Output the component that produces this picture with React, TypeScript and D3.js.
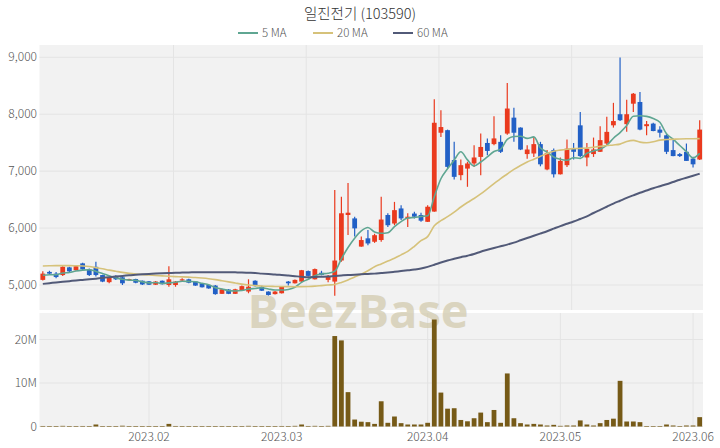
import React from "react";
import * as d3 from "d3";

const dates = [
  "2023-01-06","2023-01-09","2023-01-10","2023-01-11","2023-01-12","2023-01-13","2023-01-16","2023-01-17","2023-01-18","2023-01-19",
  "2023-01-20","2023-01-25","2023-01-26","2023-01-27","2023-01-30","2023-01-31","2023-02-01","2023-02-02","2023-02-03","2023-02-06",
  "2023-02-07","2023-02-08","2023-02-09","2023-02-10","2023-02-13","2023-02-14","2023-02-15","2023-02-16","2023-02-17","2023-02-20",
  "2023-02-21","2023-02-22","2023-02-23","2023-02-24","2023-02-27","2023-02-28","2023-03-02","2023-03-03","2023-03-06","2023-03-07",
  "2023-03-08","2023-03-09","2023-03-10","2023-03-13","2023-03-14","2023-03-15","2023-03-16","2023-03-17","2023-03-20","2023-03-21",
  "2023-03-22","2023-03-23","2023-03-24","2023-03-27","2023-03-28","2023-03-29","2023-03-30","2023-03-31","2023-04-03","2023-04-04",
  "2023-04-05","2023-04-06","2023-04-07","2023-04-10","2023-04-11","2023-04-12","2023-04-13","2023-04-14","2023-04-17","2023-04-18",
  "2023-04-19","2023-04-20","2023-04-21","2023-04-24","2023-04-25","2023-04-26","2023-04-27","2023-04-28","2023-05-02","2023-05-03",
  "2023-05-04","2023-05-08","2023-05-09","2023-05-10","2023-05-11","2023-05-12","2023-05-15","2023-05-16","2023-05-17","2023-05-18",
  "2023-05-19","2023-05-22","2023-05-23","2023-05-24","2023-05-25","2023-05-26","2023-05-30","2023-05-31","2023-06-01","2023-06-02",
];

const openP = [
  5090,5230,5200,5175,5310,5260,5380,5275,5320,5175,
  5050,5160,5135,5090,5105,5075,5065,5005,5075,5000,
  5000,5080,5100,5060,5030,5000,4990,4845,4920,4845,
  4900,4885,5075,4970,4885,4840,4855,5060,5030,5060,
  5245,5100,5215,5090,5060,5430,6230,6170,5675,5820,
  5760,5790,6230,6080,6345,6170,6255,6230,6110,6290,
  7675,7720,7195,6930,7045,7135,7250,7495,7475,7515,
  7660,7940,7765,7300,7310,7475,7030,7370,6945,7105,
  7395,7805,7240,7300,7340,7485,7805,8000,7825,8185,
  8215,7790,7835,7730,7630,7370,7300,7340,7220,7205,
];
const highP = [
  5240,5250,5230,5330,5320,5340,5390,5290,5410,5180,
  5140,5170,5140,5110,5110,5080,5070,5070,5080,5330,
  5070,5120,5110,5070,5035,5005,5000,4935,4930,4935,
  4990,5100,5085,4985,4890,4895,4980,5070,5095,5265,
  5255,5290,5250,5175,6670,6550,6790,6200,5850,5965,
  5900,6550,6260,6460,6400,6260,6285,6270,6400,8265,
  8070,7730,7515,7205,7165,7455,7660,7575,7965,7630,
  8550,8115,7770,7455,7600,7515,7370,7400,7240,7555,
  7495,8040,7495,7590,7790,7955,8200,8995,8255,8375,
  8390,7880,7850,7790,7650,7555,7320,7485,7255,7895,
];
const lowP = [
  5080,5190,5120,5160,5230,5250,5270,5160,5150,5050,
  5030,5090,5000,5080,5030,5000,5000,5000,5010,4970,
  4970,5070,5030,4985,4955,4935,4830,4840,4840,4840,
  4895,4855,4975,4895,4815,4835,4850,4990,5025,5055,
  5150,5095,5170,5050,4810,5410,5880,5850,5670,5700,
  5740,5760,6020,6050,6140,6020,6170,6110,6105,6285,
  7600,7045,6855,6840,6725,7075,6930,7280,7455,7320,
  7640,7515,7370,7220,7250,7085,7015,6890,6940,7075,
  7205,7250,7085,7250,7335,7455,7765,7880,7690,8040,
  7720,7630,7700,7590,7300,7260,7250,7180,7065,7195,
];
const closeP = [
  5200,5200,5140,5320,5240,5330,5275,5175,5175,5060,
  5135,5100,5030,5105,5040,5010,5005,5060,5015,5100,
  5060,5100,5040,4990,4960,4940,4840,4925,4845,4925,
  4980,4970,4980,4900,4825,4885,4970,5030,5090,5260,
  5160,5280,5175,5160,5430,6260,6270,5995,5790,5730,
  5875,6150,6050,6315,6170,6200,6200,6130,6375,7850,
  7775,7075,6900,7105,7135,7240,7425,7355,7575,7340,
  8100,7675,7380,7380,7475,7120,7320,6945,7180,7395,
  7340,7265,7395,7380,7545,7690,7880,7895,8000,8360,
  7730,7825,7705,7675,7340,7265,7265,7180,7120,7730,
];
const volumeM = [
  0.12,0.1,0.08,0.15,0.08,0.1,0.12,0.1,0.46,0.1,
  0.08,0.1,0.18,0.06,0.08,0.06,0.05,0.07,0.1,0.6,
  0.12,0.08,0.06,0.05,0.06,0.05,0.08,0.06,0.05,0.04,
  0.05,0.15,0.06,0.05,0.06,0.04,0.12,0.08,0.15,0.46,
  0.12,0.15,0.1,0.15,20.8,19.8,7.9,1.6,1.1,1.0,
  0.6,5.8,0.85,2.3,0.77,0.46,0.46,0.46,0.85,24.6,
  7.8,4.1,4.2,1.5,1.2,1.9,3.2,1.0,3.8,0.85,
  12.2,1.9,0.77,0.46,0.6,0.46,0.23,0.38,0.15,0.23,
  0.23,1.4,0.46,0.23,0.77,1.5,1.8,10.5,1.15,1.15,
  1.0,0.08,0.08,0.08,0.46,0.23,0.03,0.23,0.23,2.15,
];
const ma5 = [
  5170,5180,5180,5210,5220,5246,5261,5268,5239,5203,
  5164,5129,5100,5086,5082,5057,5038,5044,5026,5038,
  5048,5067,5063,5058,5030,5006,4954,4931,4902,4895,
  4903,4929,4940,4951,4931,4912,4912,4922,4960,5047,
  5102,5164,5193,5207,5241,5461,5659,5823,5949,6009,
  5932,5908,5919,6024,6112,6177,6187,6203,6215,6551,
  6866,7041,7195,7341,7198,7091,7161,7252,7346,7387,
  7559,7609,7614,7575,7602,7406,7335,7248,7208,7192,
  7236,7225,7315,7355,7385,7455,7578,7678,7802,7965,
  7973,7962,7924,7859,7655,7562,7450,7345,7234,7312,
];
const ma20 = [
  5335,5338,5340,5340,5340,5338,5335,5325,5305,5285,
  5262,5242,5222,5205,5192,5182,5175,5168,5160,5153,
  5148,5143,5138,5132,5122,5110,5095,5075,5055,5035,
  5015,5000,4990,4982,4977,4975,4973,4971,4970,4971,
  4974,4980,4990,5000,5010,5045,5090,5140,5190,5250,
  5320,5370,5420,5470,5530,5590,5680,5780,5850,6040,
  6130,6200,6280,6370,6450,6520,6600,6690,6780,6870,
  6950,7030,7100,7160,7210,7260,7310,7350,7370,7385,
  7395,7400,7405,7420,7435,7450,7460,7475,7520,7540,
  7510,7500,7515,7545,7555,7560,7565,7568,7570,7572,
];
const ma60 = [
  5020,5032,5045,5057,5068,5080,5090,5100,5112,5125,
  5138,5150,5160,5170,5180,5188,5195,5200,5205,5210,
  5215,5218,5221,5223,5225,5226,5226,5225,5224,5222,
  5220,5215,5210,5200,5192,5185,5175,5165,5155,5145,
  5138,5140,5145,5150,5160,5168,5175,5182,5188,5195,
  5200,5210,5220,5232,5245,5258,5272,5290,5318,5355,
  5395,5430,5460,5488,5515,5545,5585,5618,5650,5680,
  5710,5745,5785,5825,5865,5905,5945,5990,6035,6075,
  6115,6160,6205,6265,6320,6375,6430,6480,6530,6575,
  6620,6660,6700,6735,6770,6810,6850,6885,6920,6955,
];

const monthTickDates = ["2023-02-01", "2023-03-02", "2023-04-03", "2023-05-02", "2023-06-01"];
const monthTickLabels = ["2023.02", "2023.03", "2023.04", "2023.05", "2023.06"];
const priceGridDates = ["2023-02-07", "2023-03-08", "2023-04-05", "2023-05-04"];
const priceTicks = [5000, 6000, 7000, 8000, 9000];
const volumeTicksM = [0, 10, 20];
const seriesNames = ["5 MA", "20 MA", "60 MA"];
const seriesColors = ["#5fa692", "#d6c27a", "#525a78"];
const title = "일진전기 (103590)";
const watermark = "BeezBase";

const W = 720;
const H = 448;
const X0 = 39.5;
const X1 = 703;
const PT = 45;
const PB = 310;
const VT = 313;
const VB = 426.5;
const FONT = "'Noto Sans CJK KR', 'Noto Sans', sans-serif";
const UP = "#ea3a1e";
const DOWN = "#2260c6";

export default function App() {
  const x = d3.scaleBand<string>().domain(dates).range([X0, X1]).paddingInner(0.28).paddingOuter(0.14);
  const cx = (d: string) => (x(d) as number) + x.bandwidth() / 2;
  const y = d3.scaleLinear().domain([4561, 9216]).range([PB, PT]);
  const yv = d3.scaleLinear().domain([0, 26.1]).range([VB, VT]);
  const fmt = d3.format(",");

  const mkLine = (arr: number[]) =>
    d3
      .line<number>()
      .x((_, i) => cx(dates[i]))
      .y((v) => y(v))
      .curve(d3.curveMonotoneX)(arr) as string;

  const lines = [ma5, ma20, ma60];
  const legendX = [238, 313, 393];

  return (
    <svg
      width={W}
      height={H}
      style={{ position: "absolute", left: 0, top: 0, background: "#fff" }}
      fontFamily={FONT}
    >
      <rect x={0} y={0} width={W} height={H} fill="#fff" />
      <text x={360} y={19} textAnchor="middle" fontSize={14.5} fontWeight={300} fill="#333">
        {title}
      </text>
      {seriesNames.map((n, i) => (
        <g key={n}>
          <line x1={legendX[i]} x2={legendX[i] + 20} y1={33} y2={33} stroke={seriesColors[i]} strokeWidth={2} />
          <text x={legendX[i] + 24} y={37} fontSize={11.5} fill="#555" fontWeight={300}>
            {n}
          </text>
        </g>
      ))}

      <rect x={X0} y={PT} width={X1 - X0} height={PB - PT} fill="#f2f2f2" />
      <rect x={X0} y={VT} width={X1 - X0} height={VB - VT} fill="#f2f2f2" />

      {priceTicks.map((t) => (
        <line key={t} x1={X0} x2={X1} y1={y(t)} y2={y(t)} stroke="#e4e4e4" strokeWidth={1} />
      ))}
      {priceGridDates.map((d) => (
        <line key={d} x1={cx(d) - 2} x2={cx(d) - 2} y1={PT} y2={PB} stroke="#e4e4e4" strokeWidth={1} />
      ))}
      {volumeTicksM.map((t) => (
        <line key={t} x1={X0} x2={X1} y1={yv(t)} y2={yv(t)} stroke="#e4e4e4" strokeWidth={1} />
      ))}
      {monthTickDates.map((d) => (
        <line key={d} x1={cx(d)} x2={cx(d)} y1={VT} y2={VB} stroke="#e4e4e4" strokeWidth={1} />
      ))}

      <text
        x={358}
        y={328}
        textAnchor="middle"
        fontSize={47}
        fontWeight={700}
        fill="#d2cbae"
        opacity={0.75}
        fontFamily="'Open Sans', 'Noto Sans', sans-serif"
      >
        {watermark}
      </text>

      {dates.map((d, i) => {
        const o = openP[i];
        const c = closeP[i];
        const col = c >= o ? UP : DOWN;
        const top = y(Math.max(o, c));
        const bot = y(Math.min(o, c));
        return (
          <g key={d}>
            <line x1={cx(d)} x2={cx(d)} y1={y(highP[i])} y2={y(lowP[i])} stroke={col} strokeWidth={1.2} />
            <rect x={x(d)} y={top} width={x.bandwidth()} height={Math.max(1.2, bot - top)} fill={col} />
          </g>
        );
      })}

      {lines.map((arr, i) => (
        <path key={i} d={mkLine(arr)} fill="none" stroke={seriesColors[i]} strokeWidth={i === 2 ? 2 : 1.6} />
      ))}

      {dates.map((d, i) => (
        <rect
          key={d}
          x={x(d)}
          y={yv(volumeM[i])}
          width={x.bandwidth()}
          height={Math.max(0.6, VB - yv(volumeM[i]))}
          fill="#765a17"
        />
      ))}

      {priceTicks.map((t) => (
        <text key={t} x={37} y={y(t) + 4} textAnchor="end" fontSize={12} fill="#555" fontWeight={300}>
          {fmt(t)}
        </text>
      ))}
      {volumeTicksM.map((t) => (
        <text key={t} x={37} y={yv(t) + 4} textAnchor="end" fontSize={12} fill="#555" fontWeight={300}>
          {t === 0 ? "0" : `${t}M`}
        </text>
      ))}
      {monthTickDates.map((d, i) => (
        <text key={d} x={cx(d)} y={441} textAnchor="middle" fontSize={12} fill="#555" fontWeight={300}>
          {monthTickLabels[i]}
        </text>
      ))}
    </svg>
  );
}
